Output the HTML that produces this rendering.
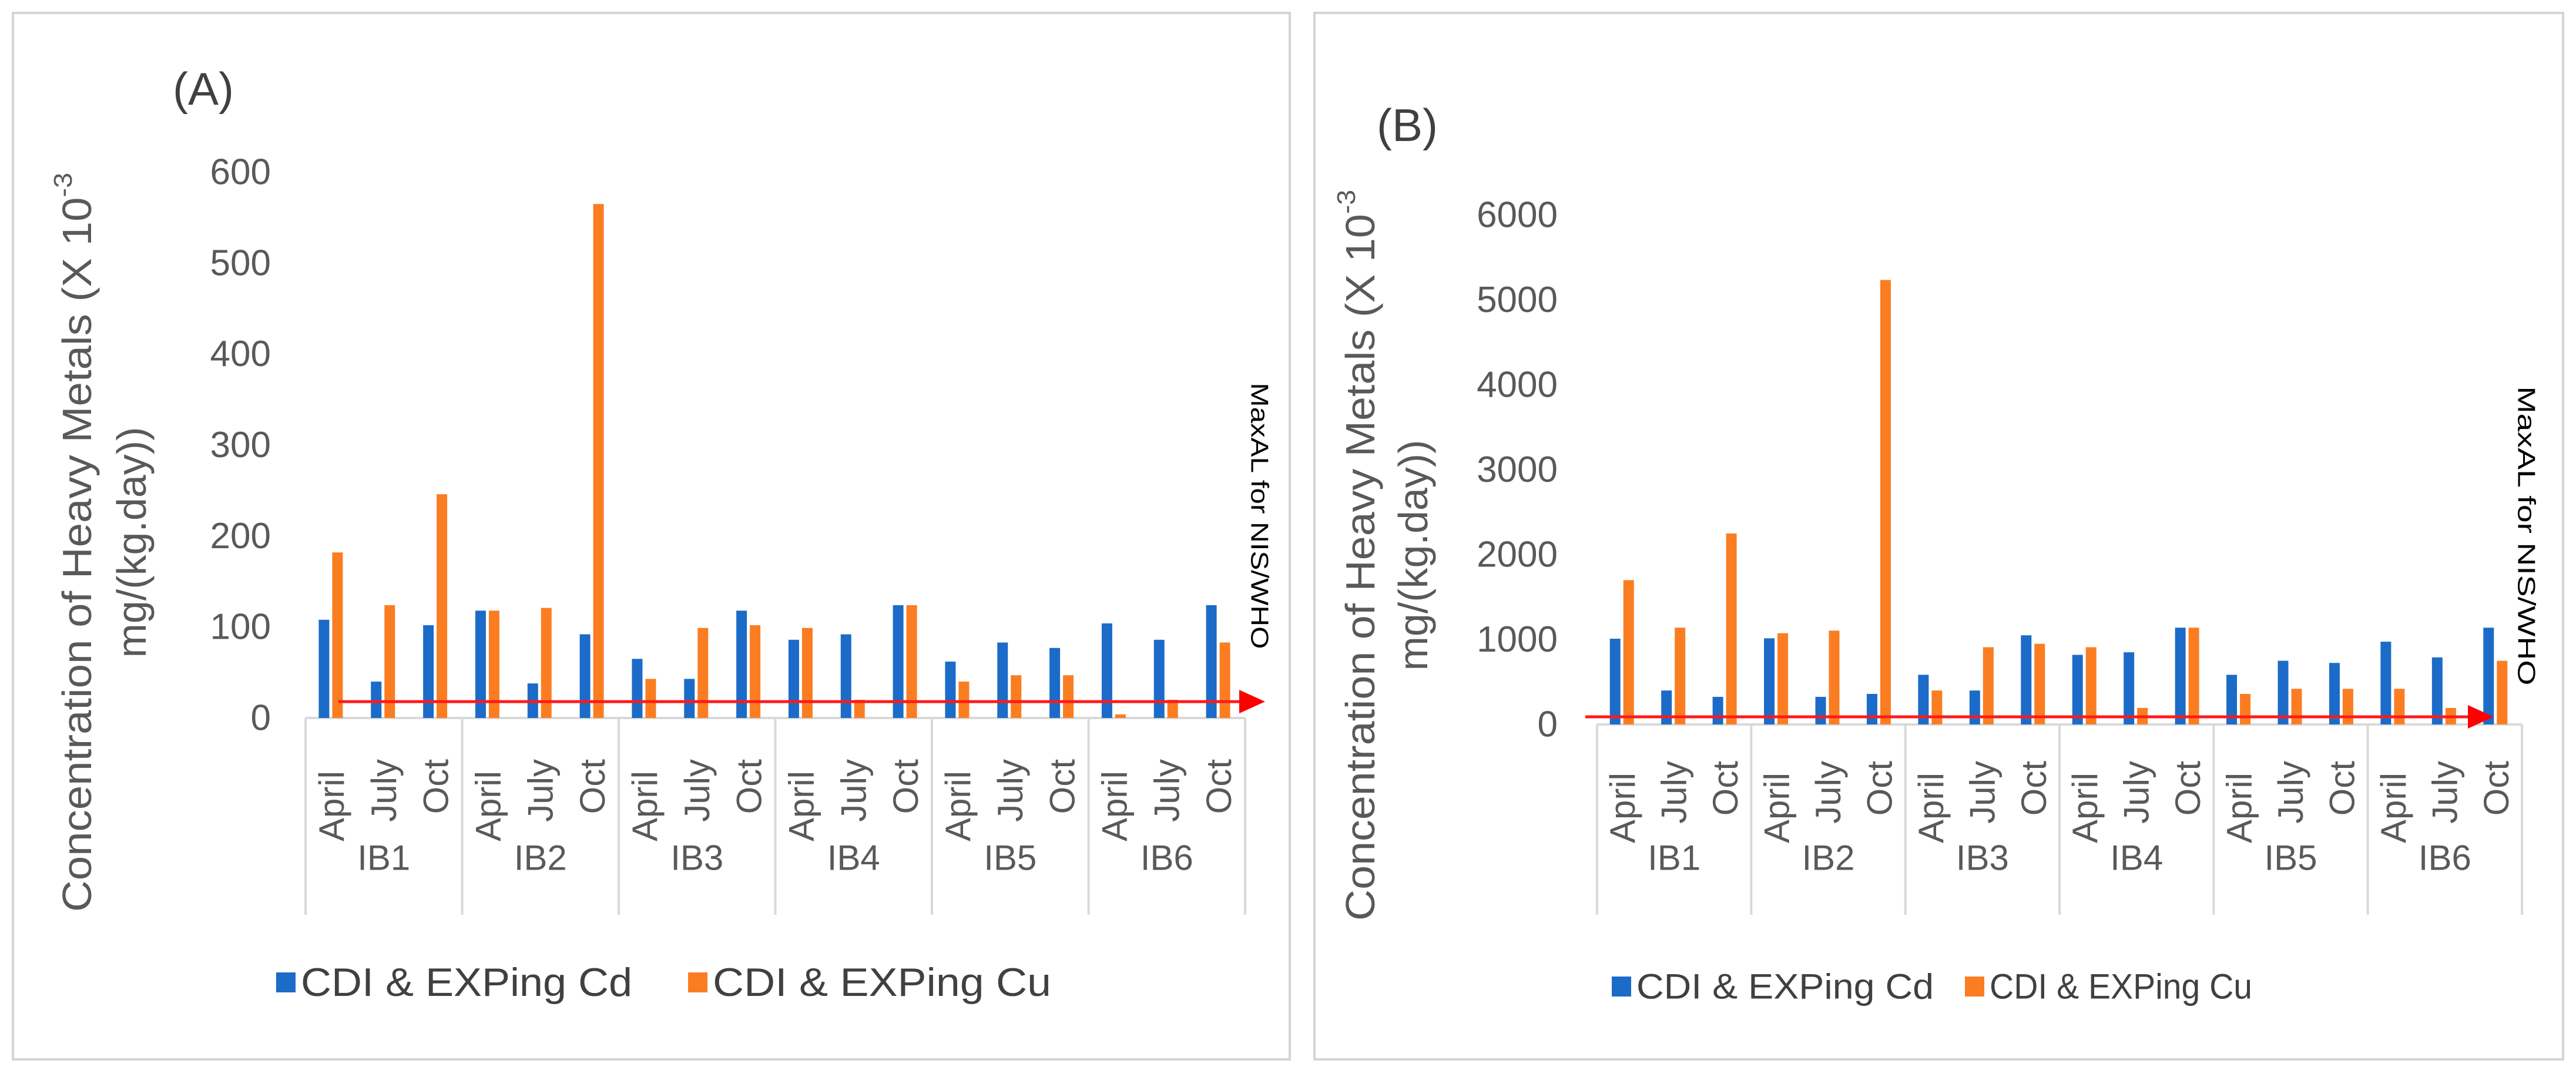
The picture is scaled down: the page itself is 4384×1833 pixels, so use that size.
<!DOCTYPE html>
<html><head><meta charset="utf-8"><style>
html,body{margin:0;padding:0;background:#fff;}
svg{display:block;font-family:"Liberation Sans",sans-serif;}
</style></head><body>
<svg id="fig" xmlns="http://www.w3.org/2000/svg" width="4384" height="1833" viewBox="0 0 4384 1833">
<rect x="22" y="22" width="2173" height="1781" fill="#fff" stroke="#d4d4d4" stroke-width="4"/>
<rect x="2237" y="22" width="2125" height="1781" fill="#fff" stroke="#d4d4d4" stroke-width="4"/>
<g id="chartA"></g>
<g id="chartB"></g>
</svg>
<script>
const groups = ["IB1","IB2","IB3","IB4","IB5","IB6"];
const months = ["April","July","Oct"];
const cdA = [108,40,102, 118,38,92, 65,43,118, 86,92,124, 62,83,77, 104,86,124];
const cuA = [182,124,246, 118,121,565, 43,99,102, 99,20,124, 40,47,47, 4,20,83];
const ticksA = [0,100,200,300,400,500,600];
const limitA = 18;
const cdB = [1010,400,325, 1015,325,360, 585,400,1050, 820,850,1140, 585,750,725, 975,790,1140];
const cuB = [1700,1140,2250, 1075,1105,5235, 400,910,950, 910,195,1140, 360,420,420, 420,195,750];
const ticksB = [0,1000,2000,3000,4000,5000,6000];
const limitB = 90;

const NS="http://www.w3.org/2000/svg";
function mk(parent,tag,attrs,text){const e=document.createElementNS(NS,tag);for(const k in attrs)e.setAttribute(k,attrs[k]);if(text!==undefined)e.textContent=text;parent.appendChild(e);return e;}

function draw(g,cfg,cd,cu,ticks,limit){
  const n=groups.length*months.length;
  const cw=(cfg.x1-cfg.x0)/n;
  const ys=v=>cfg.y0-(v-ticks[0])/(ticks[ticks.length-1]-ticks[0])*(cfg.y0-cfg.yTop);
  const xs=i=>cfg.x0+cw*(i+0.5);
  // panel label
  let t=mk(g,'text',{x:cfg.labX,y:cfg.labY,'font-size':78,fill:'#404040'},cfg.label);
  
  
  // y ticks
  ticks.forEach(v=>{
    const e=mk(g,'text',{x:cfg.tickX,y:ys(v),'font-size':62,fill:'#595959','text-anchor':'end','dominant-baseline':'central'},String(v));
    
    
  });
  // y title
  const yt=mk(g,'text',{transform:`translate(${cfg.t1x},${cfg.tY}) rotate(-90)`,'font-size':70,fill:'#595959','text-anchor':'middle','dominant-baseline':'central',textLength:cfg.t1len,lengthAdjust:'spacingAndGlyphs'});
  
  
  yt.appendChild(document.createTextNode('Concentration of Heavy Metals (X 10'));
  mk(yt,'tspan',{'font-size':44,dy:-24},'-3');
  const yt2=mk(g,'text',{transform:`translate(${cfg.t2x},${cfg.tY}) rotate(-90)`,'font-size':70,fill:'#595959','text-anchor':'middle','dominant-baseline':'central'},'mg/(kg.day))');
  
  
  // axis line and group separators
  const ax=mk(g,'line',{x1:cfg.x0,x2:cfg.x1,y1:cfg.y0,y2:cfg.y0,stroke:'#d9d9d9','stroke-width':4});
  
  
  for(let k=0;k<=groups.length;k++){
    const x=cfg.x0+k*cw*months.length;
    const s=mk(g,'line',{x1:x,x2:x,y1:cfg.y0,y2:cfg.sepBottom,stroke:'#d9d9d9','stroke-width':4});
    
    
  }
  // bars
  for(let i=0;i<n;i++){
    const c=xs(i);
    const b1=mk(g,'rect',{x:c-22,y:ys(cd[i]),width:18,height:cfg.y0-ys(cd[i]),fill:'#1c6bc8'});
    
    
    const b2=mk(g,'rect',{x:c+1,y:ys(cu[i]),width:18,height:cfg.y0-ys(cu[i]),fill:'#fb7d22'});
    
    
    const m=months[i%3];
    const ml=mk(g,'text',{transform:`translate(${c},${cfg.monthY+(m==='April'?20:0)}) rotate(-90)`,'font-size':60,fill:'#595959','text-anchor':'end','dominant-baseline':'central'},m);
    
    
  }
  groups.forEach((gname,k)=>{
    const e=mk(g,'text',{x:cfg.x0+(k+0.5)*cw*3,y:cfg.ibY,'font-size':60,fill:'#595959','text-anchor':'middle','dominant-baseline':'central'},gname);
    
    
  });
  // limit arrow
  const ly=ys(limit);
  const ll=mk(g,'line',{x1:cfg.limX0,x2:cfg.limTip-40,y1:ly,y2:ly,stroke:'#ff1a1a','stroke-width':5});
  
  
  const ah=mk(g,'polygon',{points:`${cfg.limTip-44},${ly-20} ${cfg.limTip},${ly} ${cfg.limTip-44},${ly+20}`,fill:'#ff0000'});
  
  
  const mt=mk(g,'text',{transform:`translate(${cfg.maxX},${cfg.maxY}) rotate(90)`,'font-size':42,fill:'#000','text-anchor':'middle','dominant-baseline':'central',textLength:cfg.maxLen,lengthAdjust:'spacingAndGlyphs'},'MaxAL for NIS/WHO');
  
  
  // legend
  const l1=mk(g,'rect',{x:cfg.lg1x,y:cfg.lgY-17,width:33,height:34,fill:'#1c6bc8'});
  
  
  const lt1=mk(g,'text',{x:cfg.lg1x+42,y:cfg.lgY,'font-size':cfg.lgFont,fill:'#404040','dominant-baseline':'central',textLength:cfg.lg1len,lengthAdjust:'spacingAndGlyphs'},'CDI & EXPing Cd');
  
  
  const l2=mk(g,'rect',{x:cfg.lg2x,y:cfg.lgY-17,width:33,height:34,fill:'#fb7d22'});
  
  
  const lt2=mk(g,'text',{x:cfg.lg2x+42,y:cfg.lgY,'font-size':cfg.lgFont,fill:'#404040','dominant-baseline':'central',textLength:cfg.lg2len,lengthAdjust:'spacingAndGlyphs'},'CDI & EXPing Cu');
  
  
}

draw(document.getElementById('chartA'),{
  label:'(A)',labX:294,labY:178,
  x0:520,x1:2119,y0:1222,yTop:293,tickX:461,
  t1x:131,t2x:224,tY:923,t1len:1258,
  sepBottom:1557,monthY:1292,ibY:1460,
  limX0:576,limTip:2153,maxX:2144,maxY:878,maxLen:453,
  lg1x:470,lg2x:1171,lgY:1672,lgFont:68,lg1len:564,lg2len:576
},cdA,cuA,ticksA,limitA);

draw(document.getElementById('chartB'),{
  label:'(B)',labX:2343,labY:240,
  x0:2718,x1:4292,y0:1233,yTop:366,tickX:2651,
  t1x:2315,t2x:2405,tY:945,t1len:1244,
  sepBottom:1557,monthY:1295,ibY:1460,
  limX0:2698,limTip:4244,maxX:4300,maxY:912,maxLen:509,
  lg1x:2743,lg2x:3344,lgY:1679,lgFont:60,lg1len:506,lg2len:447
},cdB,cuB,ticksB,limitB);
</script>
</body></html>
